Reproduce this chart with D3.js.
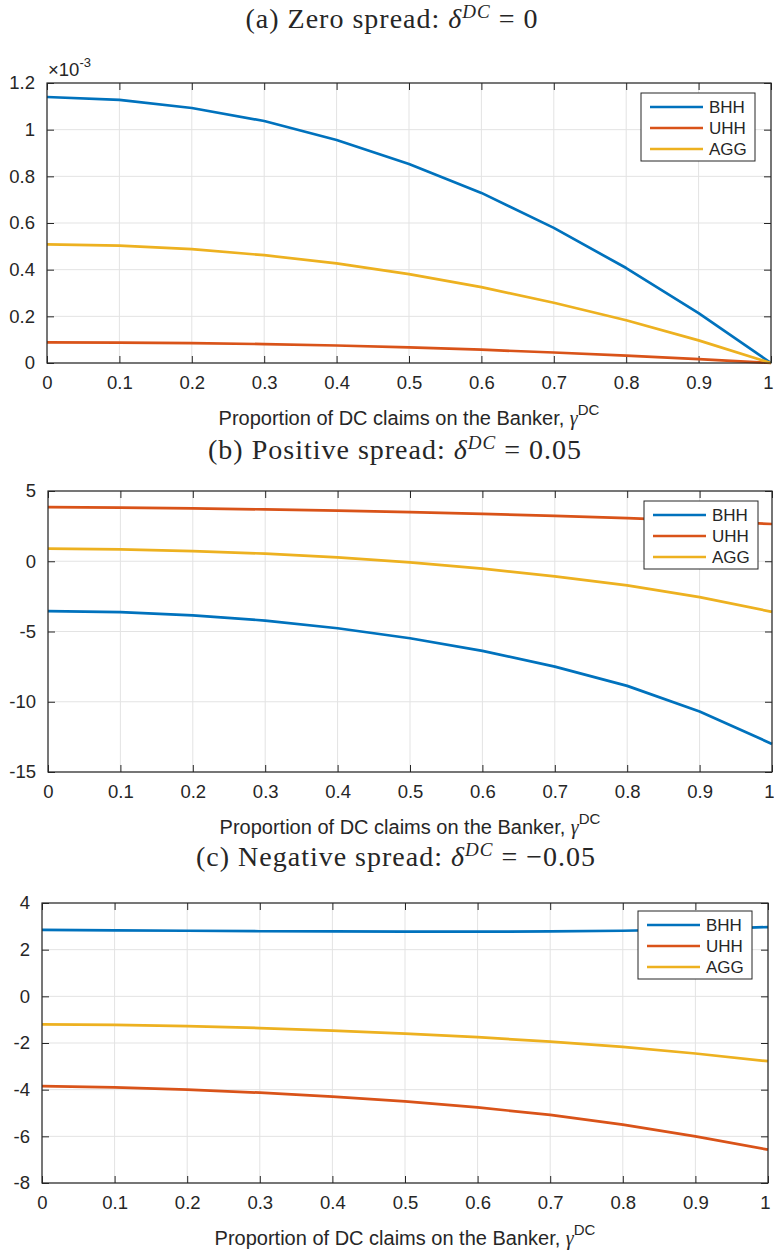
<!DOCTYPE html>
<html>
<head>
<meta charset="utf-8">
<script src="https://cdn.jsdelivr.net/npm/d3@7"></script>
<style>
  body { margin: 0; background: #fff; }
  svg text { fill: #262626; }
</style>
</head>
<body>
<div id="chart"></div>
<script>
// x values (proportion of DC claims on the Banker)
var gammaDC = [0, 0.1, 0.2, 0.3, 0.4, 0.5, 0.6, 0.7, 0.8, 0.9, 1];
var xTicks = [0, 0.1, 0.2, 0.3, 0.4, 0.5, 0.6, 0.7, 0.8, 0.9, 1];

var seriesNames = ["BHH", "UHH", "AGG"];
var colors = ["#0072BD", "#D95319", "#EDB120"];

// (a) zero spread, values in units of 1e-3
var zeroBHH = [1.14, 1.128, 1.093, 1.037, 0.956, 0.853, 0.729, 0.579, 0.407, 0.214, 0];
var zeroUHH = [0.088, 0.087, 0.085, 0.081, 0.075, 0.067, 0.057, 0.045, 0.032, 0.017, 0];
var zeroAGG = [0.508, 0.503, 0.488, 0.462, 0.427, 0.381, 0.325, 0.258, 0.183, 0.097, 0];
var zeroTicks = [0, 0.2, 0.4, 0.6, 0.8, 1, 1.2];

// (b) positive spread
var posBHH = [-3.55, -3.62, -3.85, -4.22, -4.77, -5.48, -6.38, -7.5, -8.87, -10.7, -13.0];
var posUHH = [3.85, 3.82, 3.76, 3.69, 3.6, 3.49, 3.37, 3.23, 3.07, 2.88, 2.65];
var posAGG = [0.9, 0.85, 0.72, 0.54, 0.27, -0.08, -0.53, -1.07, -1.72, -2.55, -3.6];
var posTicks = [-15, -10, -5, 0, 5];

// (c) negative spread
var negBHH = [2.85, 2.83, 2.81, 2.79, 2.78, 2.77, 2.77, 2.78, 2.81, 2.87, 2.97];
var negUHH = [-3.85, -3.9, -4.0, -4.13, -4.3, -4.5, -4.76, -5.08, -5.5, -6.0, -6.57];
var negAGG = [-1.2, -1.22, -1.28, -1.36, -1.47, -1.6, -1.75, -1.94, -2.17, -2.45, -2.78];
var negTicks = [-8, -6, -4, -2, 0, 2, 4];

var panels = [
  { label: "(a) Zero spread: ", value: "0", series: [zeroBHH, zeroUHH, zeroAGG], ticks: zeroTicks,
    domain: [0, 1.2], exponent: true,
    box: { left: 47, right: 771, top: 83, bottom: 363 }, titleY: 28, titleX: 392,
    legend: { x: 641, y: 93 } },
  { label: "(b) Positive spread: ", value: "0.05", series: [posBHH, posUHH, posAGG], ticks: posTicks,
    domain: [-15, 5], exponent: false,
    box: { left: 48, right: 772, top: 491, bottom: 772 }, titleY: 459, titleX: 395,
    legend: { x: 644, y: 501 } },
  { label: "(c) Negative spread: ", value: "\u22120.05", series: [negBHH, negUHH, negAGG], ticks: negTicks,
    domain: [-8, 4], exponent: false,
    box: { left: 42, right: 768, top: 903, bottom: 1183 }, titleY: 866, titleX: 396,
    legend: { x: 638, y: 911 } }
];

var svg = d3.select("#chart").append("svg")
  .attr("width", 774)
  .attr("height", 1251);

var sans = "'Liberation Sans', Arial, sans-serif";
var serif = "'Liberation Serif', 'Times New Roman', serif";

panels.forEach(function(p) {
  var b = p.box;
  var x = d3.scaleLinear().domain([0, 1]).range([b.left, b.right]);
  var y = d3.scaleLinear().domain(p.domain).range([b.bottom, b.top]);

  // Title (LaTeX-ish)
  var t = svg.append("text")
    .attr("x", p.titleX)
    .attr("y", p.titleY)
    .attr("text-anchor", "middle")
    .attr("font-family", serif)
    .attr("font-size", "28px")
    .attr("letter-spacing", "1px");
  t.append("tspan").text(p.label);
  t.append("tspan").attr("font-style", "italic").text("\u03B4");
  t.append("tspan").attr("font-style", "italic").attr("font-size", "19px").attr("dy", -10).text("DC");
  t.append("tspan").attr("dy", 10).text(" = " + p.value);

  var g = svg.append("g");

  // Grid
  g.selectAll(".vgrid").data(xTicks).enter().append("line")
    .attr("x1", function(d) { return x(d); })
    .attr("x2", function(d) { return x(d); })
    .attr("y1", b.top).attr("y2", b.bottom)
    .attr("stroke", "#e3e3e3").attr("stroke-width", 1);
  g.selectAll(".hgrid").data(p.ticks).enter().append("line")
    .attr("x1", b.left).attr("x2", b.right)
    .attr("y1", function(d) { return y(d); })
    .attr("y2", function(d) { return y(d); })
    .attr("stroke", "#e3e3e3").attr("stroke-width", 1);

  // Axes (ticks inward, MATLAB style)
  g.append("g")
    .attr("transform", "translate(0," + b.bottom + ")")
    .call(d3.axisBottom(x).tickValues(xTicks).tickSize(-7).tickPadding(13).tickFormat(d3.format("")))
    .call(function(a) {
      a.select(".domain").remove();
      a.selectAll("text").attr("font-family", sans).attr("font-size", "18.5px").attr("fill", "#262626");
      a.selectAll("text").filter(function(d) { return d === 1; })
        .attr("text-anchor", "end").attr("dx", 2);
      a.selectAll("line").attr("stroke", "#262626");
    });
  g.append("g")
    .attr("transform", "translate(0," + b.top + ")")
    .call(d3.axisTop(x).tickValues(xTicks).tickSize(-7).tickFormat(""))
    .call(function(a) {
      a.select(".domain").remove();
      a.selectAll("line").attr("stroke", "#262626");
    });
  g.append("g")
    .attr("transform", "translate(" + b.left + ",0)")
    .call(d3.axisLeft(y).tickValues(p.ticks).tickSize(-7).tickPadding(12).tickFormat(function(d) { return String(d); }))
    .call(function(a) {
      a.select(".domain").remove();
      a.selectAll("text").attr("font-family", sans).attr("font-size", "18.5px").attr("fill", "#262626");
      a.selectAll("line").attr("stroke", "#262626");
    });
  g.append("g")
    .attr("transform", "translate(" + b.right + ",0)")
    .call(d3.axisRight(y).tickValues(p.ticks).tickSize(-7).tickFormat(""))
    .call(function(a) {
      a.select(".domain").remove();
      a.selectAll("line").attr("stroke", "#262626");
    });

  // Lines
  var line = d3.line()
    .x(function(d, i) { return x(gammaDC[i]); })
    .y(function(d) { return y(d); });
  p.series.forEach(function(s, i) {
    g.append("path")
      .datum(s)
      .attr("d", line)
      .attr("fill", "none")
      .attr("stroke", colors[i])
      .attr("stroke-width", 2.7)
      .attr("stroke-linejoin", "round");
  });

  // Box
  g.append("rect")
    .attr("x", b.left).attr("y", b.top)
    .attr("width", b.right - b.left).attr("height", b.bottom - b.top)
    .attr("fill", "none").attr("stroke", "#262626").attr("stroke-width", 1.2);

  // Exponent label
  if (p.exponent) {
    var e = svg.append("text")
      .attr("x", b.left + 1).attr("y", b.top - 7)
      .attr("font-family", sans).attr("font-size", "18.5px");
    e.append("tspan").text("\u00D710");
    e.append("tspan").attr("font-size", "13px").attr("dy", -9).text("-3");
  }

  // X label
  var xl = svg.append("text")
    .attr("x", (b.left + b.right) / 2)
    .attr("y", b.bottom + 62)
    .attr("text-anchor", "middle")
    .attr("font-family", sans)
    .attr("font-size", "20px");
  xl.append("tspan").text("Proportion of DC claims on the Banker,  ");
  xl.append("tspan").attr("font-family", serif).attr("font-style", "italic").text("\u03B3");
  xl.append("tspan").attr("font-size", "15px").attr("dy", -10).text("DC");

  // Legend
  var lg = svg.append("g").attr("transform", "translate(" + p.legend.x + "," + p.legend.y + ")");
  lg.append("rect")
    .attr("width", 114).attr("height", 68)
    .attr("fill", "#fff").attr("stroke", "#262626").attr("stroke-width", 1);
  seriesNames.forEach(function(n, i) {
    lg.append("line")
      .attr("x1", 9).attr("x2", 62)
      .attr("y1", 14 + i * 21).attr("y2", 14 + i * 21)
      .attr("stroke", colors[i]).attr("stroke-width", 2.7);
    lg.append("text")
      .attr("x", 68).attr("y", 14 + i * 21).attr("dy", "0.36em")
      .attr("font-family", sans).attr("font-size", "17px")
      .text(n);
  });
});
</script>
</body>
</html>
